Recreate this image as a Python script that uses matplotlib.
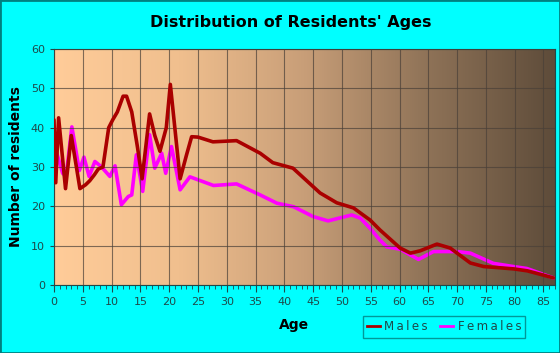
import numpy as np
import matplotlib.pyplot as plt
from matplotlib.colors import LinearSegmentedColormap
from matplotlib.ticker import MultipleLocator
from matplotlib.lines import Line2D

# ages and residents
male_age = [0, 0.3, 0.8, 2.0, 3.0, 4.5, 5.5, 6.2, 7.0, 7.7, 8.5, 9.5, 10.2, 11.0,
            12.0, 12.6, 13.5, 14.5, 15.3, 16.6, 17.5, 18.4, 19.5, 20.2, 21.9,
            23.0, 23.9, 25.0, 27.6, 31.7, 35.8, 38.0, 41.5, 46.2, 49.1, 52.0,
            54.9, 56.6, 60.1, 61.9, 63.6, 66.5, 68.8, 72.3, 74.6, 79.8, 82.2,
            85.0, 86.7]
male_val = [42, 26, 42.5, 24.5, 38, 24.5, 25.5, 26.5, 28, 29.5, 30, 40, 42, 44,
            48, 48, 44, 35, 27, 43.5, 38, 34, 40, 51, 27,
            33, 37.7, 37.6, 36.4, 36.7, 33.5, 31.1, 29.7, 23.4, 20.9, 19.6,
            16.5, 14, 9.4, 8.1, 8.7, 10.4, 9.4, 5.6, 4.7, 4.1, 3.6,
            2.5, 1.8]

female_age = [0, 0.3, 1.5, 2.1, 3.1, 4.4, 5.2, 6.1, 7.1, 8.2, 9.7, 10.6, 11.7,
              12.9, 13.5, 14.3, 15.4, 16.6, 17.5, 18.7, 19.4, 20.4, 21.9, 23.6,
              27.7, 31.7, 35.8, 38.7, 41.6, 45.0, 47.6, 51.7, 53.2, 54.9, 56.6,
              57.8, 60.1, 63.3, 65.9, 70.0, 72.3, 76.3, 79.3, 82.1, 86.7]
female_val = [36.5, 34.4, 28.4, 27.6, 40.2, 29.1, 32.5, 27.6, 31.4, 30.1, 27.6,
              30.3, 20.4, 22.5, 22.9, 33.1, 23.8, 38.2, 29.7, 33.5, 28.4, 35.2,
              24.2, 27.5, 25.3, 25.7, 22.9, 20.8, 19.9, 17.4, 16.3, 17.8, 17.0,
              14.4, 11.4, 9.7, 9.1, 6.5, 8.5, 8.5, 8.1, 5.5, 4.8, 4.2, 1.8]

x_ticks = list(range(0, 90, 5))
y_ticks = list(range(0, 70, 10))

bg = '#00FFFF'
fig = plt.figure(figsize=(5.6, 3.53), dpi=100, facecolor=bg)
fig.patches.append(plt.Rectangle((0, 0), 1, 1, transform=fig.transFigure,
                                 fill=False, edgecolor='#008080', lw=2))
ax = fig.add_axes([54 / 560, 1 - 285 / 353, 501 / 560, 236 / 353])

# gradient background
cmap = LinearSegmentedColormap.from_list('bg', ['#FFCC99', '#F0BF8E', '#C89E78',
                                                '#8E7257', '#5E4C3A'])
grad = np.linspace(0, 1, 256).reshape(1, -1)
ax.imshow(grad, cmap=cmap, aspect='auto', extent=[0, 87, 0, 60], zorder=0)

ax.set_xlim(0, 87)
ax.set_ylim(0, 60)
ax.set_xticks(x_ticks)
ax.set_yticks(y_ticks)
ax.xaxis.set_minor_locator(MultipleLocator(1))
ax.grid(True, color='#4a4038', lw=0.8, alpha=0.7, zorder=1)
ax.tick_params(axis='both', which='both', colors='#1d4a4a', labelsize=8,
               direction='out')
ax.tick_params(axis='x', which='major', length=5)
ax.tick_params(axis='x', which='minor', length=3)
ax.tick_params(axis='y', length=3)
for s in ax.spines.values():
    s.set_color('#1d4a4a')
    s.set_linewidth(0.8)
ax.set_axisbelow(False)

ax.plot(male_age, male_val, color='#AA0000', lw=2.6, solid_joinstyle='round',
        solid_capstyle='round', zorder=3)
ax.plot(female_age, female_val, color='#FF00FF', lw=2.6, solid_joinstyle='round',
        solid_capstyle='round', zorder=2)

ax.set_xlabel('Age', fontsize=10, fontweight='bold')
ax.xaxis.set_label_coords(0.479, -0.14)
ax.set_ylabel('Number of residents', fontsize=10, fontweight='bold', labelpad=6)
fig.text(291 / 560, 1 - 22 / 353, "Distribution of Residents' Ages", ha='center',
         va='center', fontsize=11.5, fontweight='bold')

h = [Line2D([], [], color='#AA0000', lw=2), Line2D([], [], color='#FF00FF', lw=2)]
leg = fig.legend(h, ['M\u2009a\u2009l\u2009e\u2009s',
                     'F\u2009e\u2009m\u2009a\u2009l\u2009e\u2009s'], loc='center',
                 bbox_to_anchor=(444 / 560, 1 - 327 / 353), ncol=2,
                 frameon=True, fontsize=8.5, handlelength=1.1, columnspacing=1.0,
                 handletextpad=0.4, borderpad=0.35, fancybox=False)
leg.get_frame().set_facecolor(bg)
leg.get_frame().set_edgecolor('#008080')
for t in leg.get_texts():
    t.set_color('#1d4a4a')

fig.savefig('out.png', dpi=100, facecolor=bg)
